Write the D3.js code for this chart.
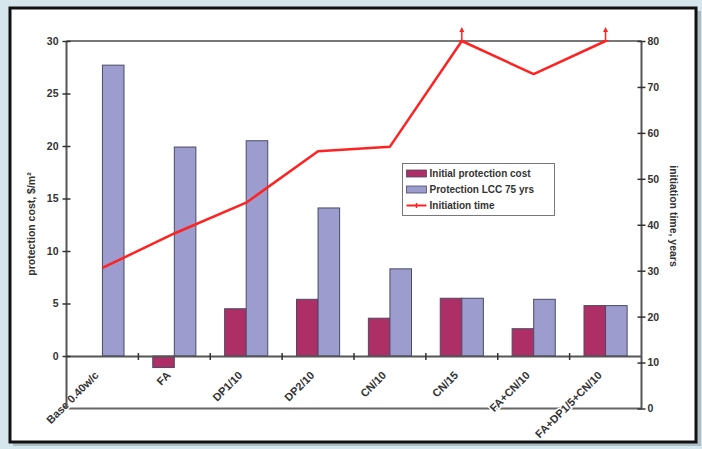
<!DOCTYPE html>
<html>
<head>
<meta charset="utf-8">
<script src="https://cdn.jsdelivr.net/npm/d3@7"></script>
<style>
  html, body { margin: 0; padding: 0; background: #d6e6ed; }
  svg { display: block; }
  text { font-family: "Liberation Sans", Arial, sans-serif; font-weight: bold; fill: #333; }
</style>
</head>
<body>
<svg id="chart" width="702" height="449"></svg>
<script>
// Protection alternatives and their costs / corrosion initiation time
const categories = ["Base 0.40w/c", "FA", "DP1/10", "DP2/10", "CN/10", "CN/15", "FA+CN/10", "FA+DP1/5+CN/10"];
const initialCost = [0, -1.1, 4.5, 5.4, 3.6, 5.5, 2.6, 4.8];        // $/m²
const lccCost = [27.7, 19.9, 20.5, 14.1, 8.3, 5.5, 5.4, 4.8];       // $/m², 75 yrs
const initiationTime = [30.6, 38.1, 44.8, 56.0, 57.0, 80, 72.8, 80]; // years
const beyondAxis = [false, false, false, false, false, true, false, true]; // time exceeds 80 yrs
const costTicks = [0, 5, 10, 15, 20, 25, 30];
const timeTicks = [0, 10, 20, 30, 40, 50, 60, 70, 80];
const seriesNames = ["Initial protection cost", "Protection LCC 75 yrs", "Initiation time"];

const colInit = "#ad2f66", colLcc = "#9c9cce", colLine = "#ff2222", axisCol = "#555";

const svg = d3.select("#chart");

// framed white panel with shadow
svg.append("rect").attr("x", 13).attr("y", 11).attr("width", 688).attr("height", 435)
  .attr("fill", "#8a9aa2").attr("opacity", 0.55);
svg.append("rect").attr("x", 10).attr("y", 8).attr("width", 686).attr("height", 434)
  .attr("fill", "#fff").attr("stroke", "#111").attr("stroke-width", 3);

const plotLeft = 66.5, plotRight = 641.5, plotTop = 41, plotBottom = 408.5;

const x = d3.scaleBand().domain(categories).range([plotLeft, plotRight]);
const bw = x.bandwidth();
const xSub = d3.scaleBand().domain(["init", "lcc"]).range([0.2 * bw, 0.8 * bw]);
const yCost = d3.scaleLinear().domain([-5, 30]).range([plotBottom, plotTop]);
const yTime = d3.scaleLinear().domain([0, 80]).range([plotBottom, plotTop]);

// plot frame: top and bottom edges
svg.append("line").attr("x1", plotLeft).attr("x2", plotRight).attr("y1", plotTop).attr("y2", plotTop)
  .attr("stroke", "#777").attr("stroke-width", 2);
svg.append("line").attr("x1", plotLeft).attr("x2", plotRight).attr("y1", plotBottom).attr("y2", plotBottom)
  .attr("stroke", "#666").attr("stroke-width", 2);

// bars
const rows = categories.map((c, i) => ({ c, init: initialCost[i], lcc: lccCost[i] }));
const g = svg.append("g");
rows.forEach(r => {
  [["init", r.init, colInit], ["lcc", r.lcc, colLcc]].forEach(([k, v, col]) => {
    if (v === 0) return;
    g.append("rect")
      .attr("x", x(r.c) + xSub(k))
      .attr("width", xSub.bandwidth())
      .attr("y", Math.min(yCost(v), yCost(0)))
      .attr("height", Math.abs(yCost(v) - yCost(0)))
      .attr("fill", col).attr("stroke", "#4a4a66").attr("stroke-width", 1);
  });
});

// category axis at zero cost
const xAxis = d3.axisBottom(x).tickSize(0).tickFormat("");
const gx = svg.append("g").attr("transform", `translate(0,${yCost(0)})`).call(xAxis);
gx.select(".domain").attr("stroke", axisCol).attr("stroke-width", 2);
const boundaries = categories.slice(1).map(c => x(c));
gx.selectAll(".sep").data(boundaries).join("line").attr("class", "sep")
  .attr("x1", d => d).attr("x2", d => d).attr("y1", -3).attr("y2", 4)
  .attr("stroke", "#333").attr("stroke-width", 1.5);

// rotated category labels
svg.append("g").selectAll("text").data(categories).join("text")
  .attr("transform", d => `translate(${x(d) + bw / 2 - 3},${yCost(0) + 20}) rotate(-45)`)
  .attr("text-anchor", "end")
  .attr("font-size", 11)
  .attr("stroke", "#fff").attr("stroke-width", 3).attr("paint-order", "stroke")
  .text(d => d);

// left axis
const gl = svg.append("g").attr("transform", `translate(${plotLeft},0)`)
  .call(d3.axisLeft(yCost).tickValues(costTicks).tickSize(4).tickPadding(6));
gl.select(".domain").attr("d", `M0,${plotTop}V${plotBottom}`).attr("stroke", axisCol).attr("stroke-width", 2);
gl.selectAll(".tick line").attr("x2", -4).attr("x1", 4).attr("stroke", "#333").attr("stroke-width", 1.5);
gl.selectAll(".tick text").attr("font-size", 10.5).attr("fill", "#333").attr("x", -8);

// right axis
const gr = svg.append("g").attr("transform", `translate(${plotRight},0)`)
  .call(d3.axisRight(yTime).tickValues(timeTicks).tickSize(4).tickPadding(6));
gr.select(".domain").attr("d", `M0,${plotTop}V${plotBottom}`).attr("stroke", axisCol).attr("stroke-width", 2);
gr.selectAll(".tick line").attr("x1", -4).attr("x2", 4).attr("stroke", "#333").attr("stroke-width", 1.5);
gr.selectAll(".tick text").attr("font-size", 10.5).attr("fill", "#333").attr("x", 6);

// axis titles
svg.append("text").attr("transform", `translate(35,224) rotate(-90)`)
  .attr("text-anchor", "middle").attr("font-size", 10.5)
  .text("protection cost, $/m²");
svg.append("text").attr("transform", `translate(670,216) rotate(90)`)
  .attr("text-anchor", "middle").attr("font-size", 10.5)
  .text("initiation time, years");

// initiation time line
const pts = categories.map((c, i) => [x(c) + bw / 2, yTime(initiationTime[i])]);
svg.append("path").attr("d", d3.line()(pts))
  .attr("fill", "none").attr("stroke", colLine).attr("stroke-width", 2.5)
  .attr("stroke-linejoin", "round");
// arrows where time runs past the axis maximum
pts.forEach((p, i) => {
  if (!beyondAxis[i]) return;
  svg.append("line").attr("x1", p[0]).attr("x2", p[0]).attr("y1", p[1]).attr("y2", p[1] - 11)
    .attr("stroke", colLine).attr("stroke-width", 1.5);
  svg.append("path").attr("d", `M${p[0] - 2.5},${p[1] - 9}L${p[0]},${p[1] - 14}L${p[0] + 2.5},${p[1] - 9}Z`)
    .attr("fill", colLine);
  svg.append("line").attr("x1", p[0] - 3).attr("x2", p[0] + 3).attr("y1", p[1]).attr("y2", p[1])
    .attr("stroke", colLine).attr("stroke-width", 1.5);
});

// legend
const lg = svg.append("g").attr("transform", "translate(402.5,163.5)");
lg.append("rect").attr("width", 152).attr("height", 52).attr("fill", "#fff")
  .attr("stroke", "#777").attr("stroke-width", 1);
seriesNames.forEach((name, i) => {
  const yy = 10 + i * 16;
  if (i < 2) {
    lg.append("rect").attr("x", 4).attr("y", yy - 3.5).attr("width", 20).attr("height", 7)
      .attr("fill", i === 0 ? colInit : colLcc).attr("stroke", "#4a4a66").attr("stroke-width", 0.8);
  } else {
    lg.append("line").attr("x1", 4).attr("x2", 24).attr("y1", yy).attr("y2", yy)
      .attr("stroke", colLine).attr("stroke-width", 2);
    lg.append("line").attr("x1", 14).attr("x2", 14).attr("y1", yy - 2.5).attr("y2", yy + 2.5)
      .attr("stroke", colLine).attr("stroke-width", 1.5);
  }
  lg.append("text").attr("x", 27).attr("y", yy + 3.5).attr("font-size", 10).text(name);
});
</script>
</body>
</html>
